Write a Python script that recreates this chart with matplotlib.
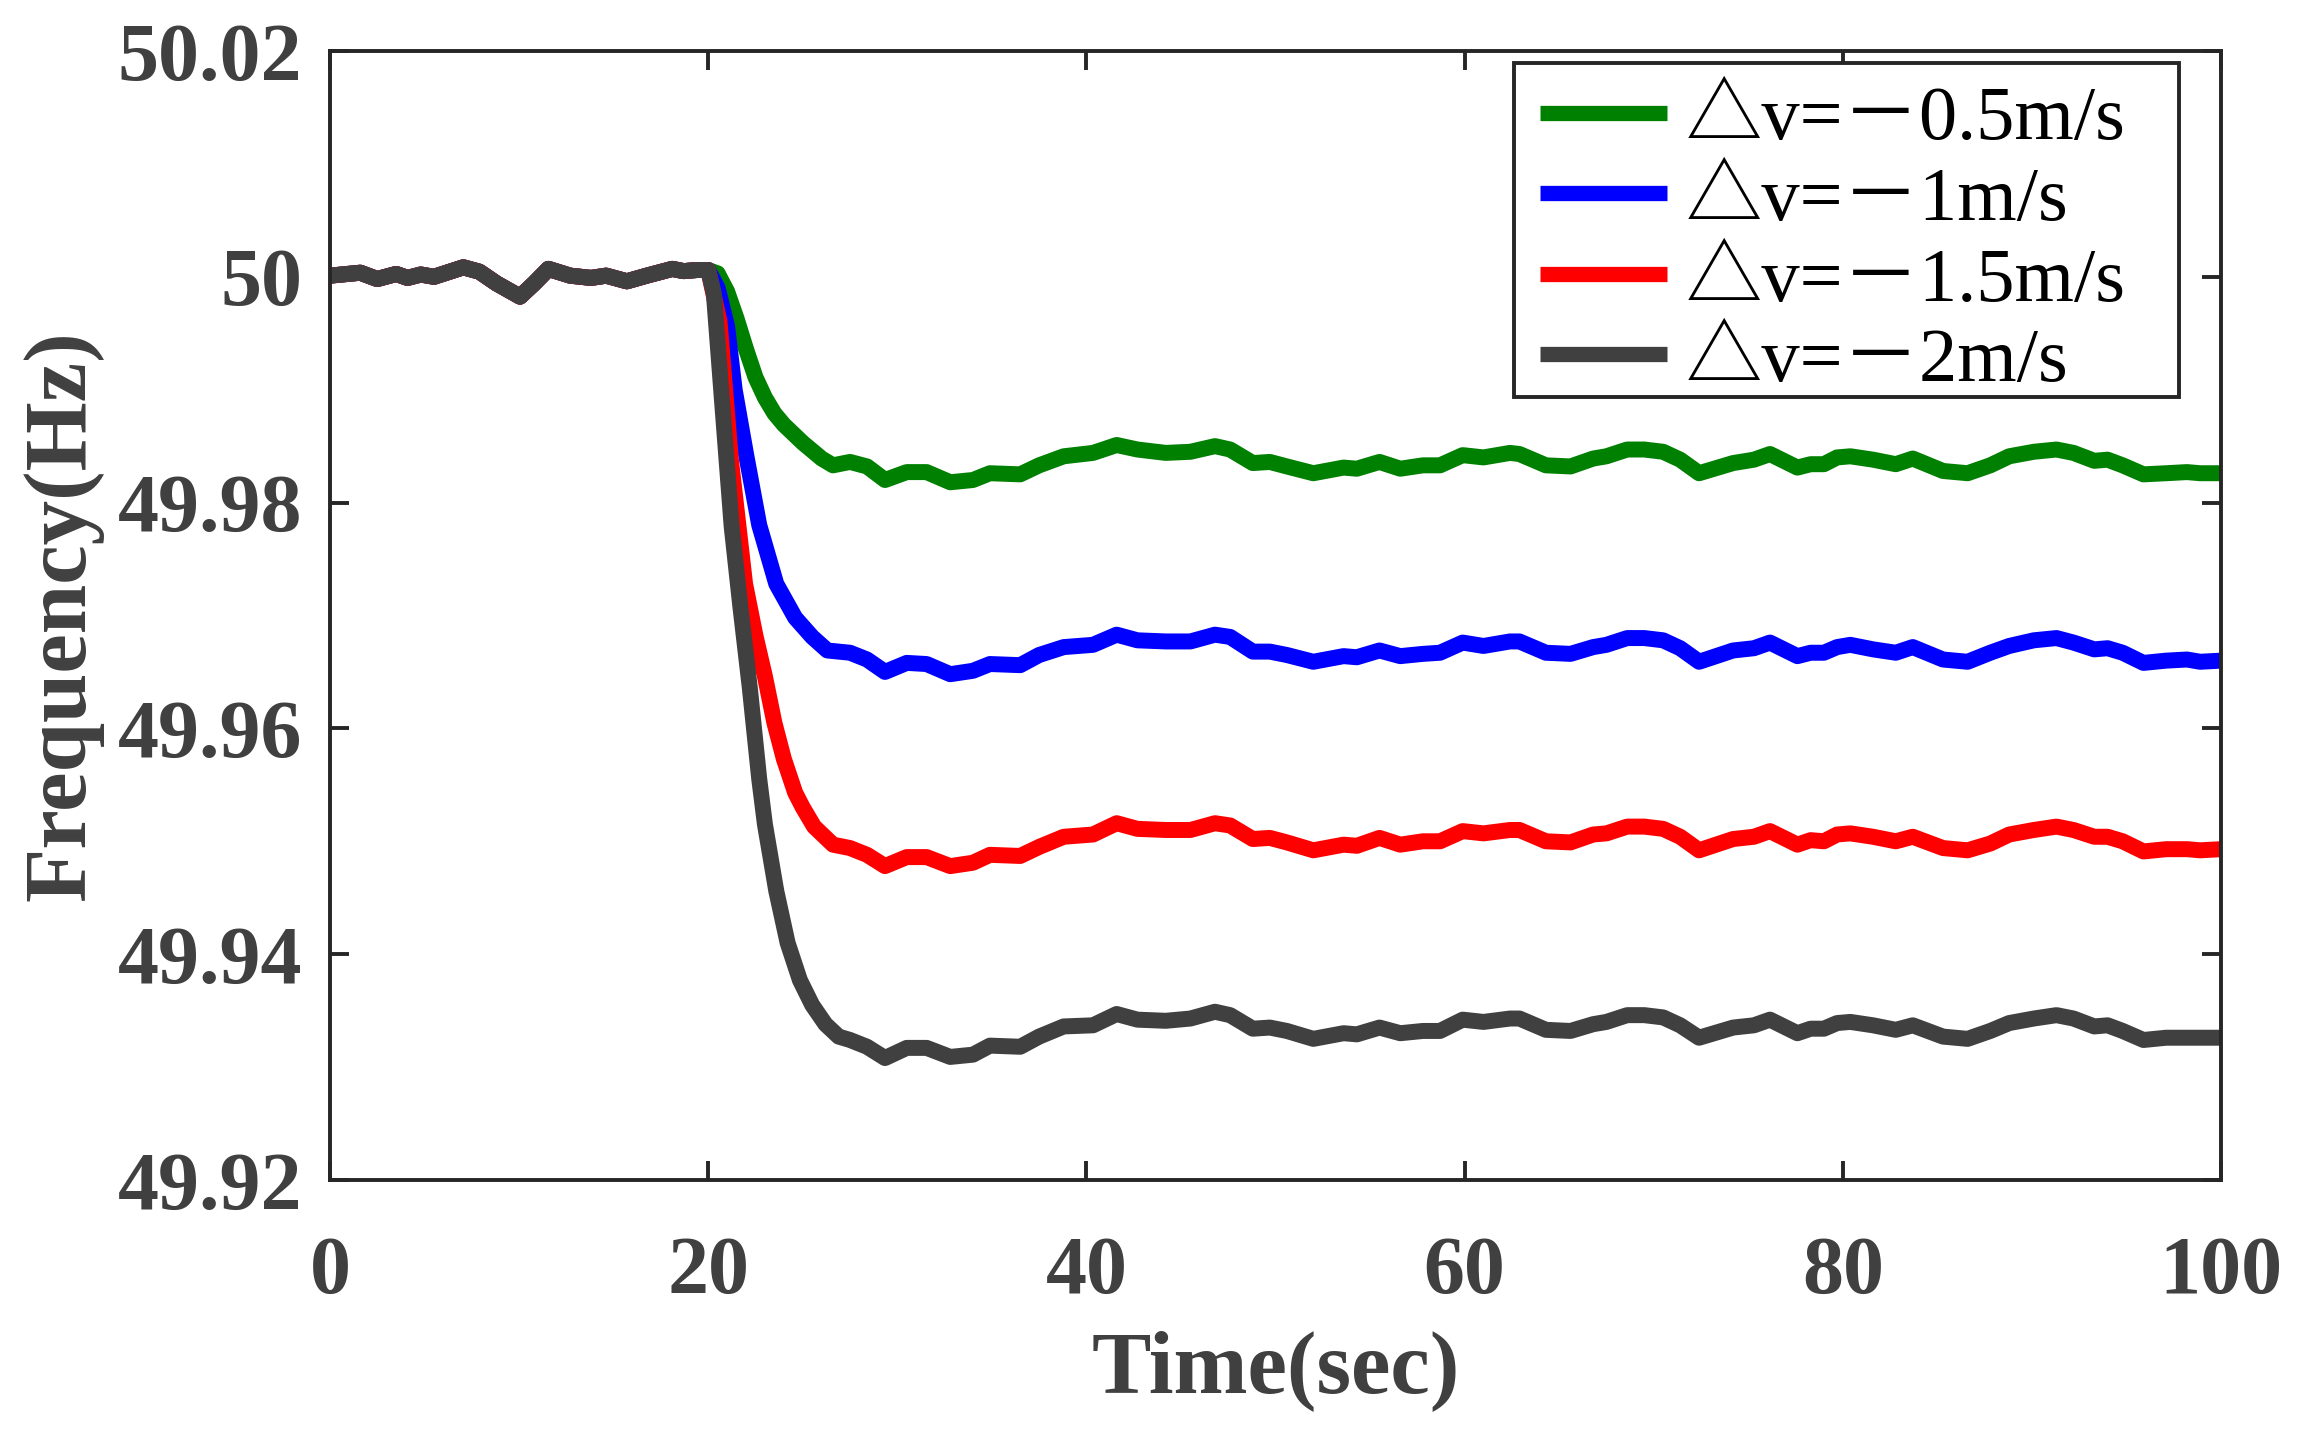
import matplotlib
matplotlib.use('Agg')
import matplotlib.pyplot as plt
from matplotlib.patches import Rectangle

# ---------------- data ----------------
# common pre-disturbance trace (all four runs coincide before t = 20 s)
time_pre = [0.0, 1.6, 2.5, 3.5, 4.1, 4.8, 5.5, 7.05, 7.9, 8.8, 10.05, 10.8,
            11.55, 12.7, 13.8, 14.6, 15.7, 16.75, 18.1, 18.7, 19.4]
freq_pre = [50.0001, 50.00036, 49.9998, 50.00025, 49.9999, 50.0002, 50.0000,
            50.00084, 50.00045, 49.99942, 49.99824, 49.99942, 50.0007, 50.0001,
            49.9999, 50.0001, 49.9996, 50.0001, 50.0007, 50.0005, 50.0006]

# transient part, per series
time_tr_green = [20.0, 20.5, 21.0, 21.5, 22.0, 22.5, 23.0, 23.5, 24.0, 24.5, 25.0, 25.5, 26.0, 26.6]
freq_tr_green = [50.0006, 50.0003, 49.9987, 49.9963, 49.9936, 49.9911, 49.9893, 49.9879,
                 49.9869, 49.9861, 49.9853, 49.9846, 49.9839, 49.9833]

time_tr_blue = [20.0, 20.5, 21.0, 21.4, 22.0, 22.7, 23.6, 24.6, 25.5, 26.3]
freq_tr_blue = [50.0006, 49.9990, 49.9956, 49.9900, 49.9843, 49.9780, 49.9728, 49.9698,
                49.9681, 49.9669]

time_tr_red = [20.0, 20.6, 21.2, 21.95, 22.5, 23.0, 23.5, 24.0, 24.6, 25.0, 25.6, 26.6]
freq_tr_red = [50.0006, 49.9960, 49.9838, 49.9728, 49.9682, 49.9646, 49.9605, 49.9573,
               49.9543, 49.9530, 49.9513, 49.9497]

time_tr_black = [20.0, 20.3, 20.7, 21.24, 21.7, 22.2, 22.7, 23.0, 23.6, 24.2, 24.85, 25.5, 26.2, 26.9]
freq_tr_black = [50.0006, 49.9985, 49.9897, 49.9779, 49.9708, 49.9636, 49.9555, 49.9515,
                 49.9456, 49.9410, 49.9377, 49.9355, 49.9338, 49.9327]

# plateau part (common time samples)
time_pl = [27.5, 28.4, 29.35, 30.5, 31.55, 32.8, 34.0, 34.9, 36.5, 37.5, 38.8, 40.35,
           41.6, 42.7, 44.2, 45.5, 46.8, 47.6, 48.8, 49.7, 50.6, 52.0, 53.6, 54.3,
           55.5, 56.6, 57.8, 58.7, 59.9, 61.0, 62.4, 62.9, 64.3, 65.6, 66.8, 67.5,
           68.6, 69.5, 70.5, 71.4, 72.4, 74.2, 75.3, 76.15, 77.6, 78.3, 79.0, 79.7,
           80.4, 81.6, 82.8, 83.7, 85.3, 86.6, 87.8, 88.8, 90.1, 91.3, 92.2, 93.3,
           94.0, 94.8, 95.9, 97.1, 98.2, 98.9, 100.0]

freq_pl_green = [49.9836, 49.9832, 49.9820, 49.9827, 49.9827, 49.9818, 49.9820, 49.9826,
                 49.9825, 49.9833, 49.9841, 49.9844, 49.9851, 49.9847, 49.9844, 49.9845,
                 49.9850, 49.9847, 49.9835, 49.9836, 49.9832, 49.9826, 49.9831, 49.9830,
                 49.9836, 49.9830, 49.9833, 49.9833, 49.9842, 49.9840, 49.9844, 49.9843,
                 49.9833, 49.9832, 49.9839, 49.9841, 49.9847, 49.9847, 49.9845, 49.9838,
                 49.9826, 49.9835, 49.9838, 49.9843, 49.9831, 49.9834, 49.9834, 49.9840,
                 49.9841, 49.9838, 49.9834, 49.9839, 49.9828, 49.9826, 49.9833, 49.9841,
                 49.9845, 49.9847, 49.9844, 49.9837, 49.9838, 49.9833, 49.9825, 49.9826,
                 49.9827, 49.9826, 49.9826]

freq_pl_blue = [49.9667, 49.9661, 49.9650, 49.9658, 49.9657, 49.9648, 49.9651, 49.9657,
                49.9656, 49.9665, 49.9672, 49.9674, 49.9683, 49.9678, 49.9677, 49.9677,
                49.9683, 49.9681, 49.9668, 49.9668, 49.9665, 49.9659, 49.9664, 49.9663,
                49.9669, 49.9664, 49.9666, 49.9667, 49.9676, 49.9673, 49.9677, 49.9677,
                49.9667, 49.9666, 49.9672, 49.9674, 49.9680, 49.9680, 49.9678, 49.9671,
                49.9659, 49.9669, 49.9671, 49.9676, 49.9664, 49.9667, 49.9667, 49.9672,
                49.9674, 49.9670, 49.9667, 49.9672, 49.9661, 49.9659, 49.9667, 49.9673,
                49.9678, 49.9680, 49.9676, 49.9670, 49.9671, 49.9667, 49.9658, 49.9660,
                49.9661, 49.9659, 49.9660]

freq_pl_red = [49.9494, 49.9488, 49.9478, 49.9486, 49.9486, 49.9478, 49.9481, 49.9488,
               49.9487, 49.9495, 49.9504, 49.9506, 49.9516, 49.9511, 49.9510, 49.9510,
               49.9516, 49.9514, 49.9502, 49.9503, 49.9499, 49.9492, 49.9497, 49.9496,
               49.9503, 49.9497, 49.9500, 49.9500, 49.9509, 49.9507, 49.9510, 49.9510,
               49.9500, 49.9499, 49.9506, 49.9507, 49.9513, 49.9513, 49.9511, 49.9504,
               49.9492, 49.9502, 49.9504, 49.9509, 49.9497, 49.9501, 49.9500, 49.9506,
               49.9507, 49.9504, 49.9500, 49.9504, 49.9494, 49.9492, 49.9498, 49.9506,
               49.9510, 49.9513, 49.9510, 49.9504, 49.9504, 49.9500, 49.9491, 49.9493,
               49.9493, 49.9492, 49.9493]

freq_pl_black = [49.9324, 49.9318, 49.9308, 49.9317, 49.9317, 49.9309, 49.9311, 49.9319,
                 49.9318, 49.9327, 49.9336, 49.9337, 49.9347, 49.9342, 49.9341, 49.9343,
                 49.9349, 49.9346, 49.9334, 49.9335, 49.9332, 49.9325, 49.9330, 49.9329,
                 49.9335, 49.9330, 49.9332, 49.9332, 49.9342, 49.9340, 49.9343, 49.9343,
                 49.9333, 49.9332, 49.9338, 49.9340, 49.9346, 49.9346, 49.9344, 49.9337,
                 49.9326, 49.9335, 49.9337, 49.9342, 49.9330, 49.9334, 49.9334, 49.9339,
                 49.9340, 49.9337, 49.9333, 49.9337, 49.9327, 49.9325, 49.9332, 49.9339,
                 49.9343, 49.9346, 49.9343, 49.9336, 49.9337, 49.9332, 49.9324, 49.9326,
                 49.9326, 49.9326, 49.9326]

series_labels = ['△v=－0.5m/s', '△v=－1m/s', '△v=－1.5m/s', '△v=－2m/s']
series_colors = ['#008000', '#0000ff', '#ff0000', '#404040']

xticks = [0, 20, 40, 60, 80, 100]
xtick_labels = ['0', '20', '40', '60', '80', '100']
yticks = [49.92, 49.94, 49.96, 49.98, 50.00, 50.02]
ytick_labels = ['49.92', '49.94', '49.96', '49.98', '50', '50.02']

# ---------------- figure ----------------
plt.rcParams['font.family'] = ['Liberation Serif', 'DejaVu Serif']

fig = plt.figure(figsize=(22.99, 14.39), dpi=100)
ax = fig.add_axes([0.14354, 0.18, 0.82253, 0.78457])

tr_times = [time_tr_green, time_tr_blue, time_tr_red, time_tr_black]
tr_freqs = [freq_tr_green, freq_tr_blue, freq_tr_red, freq_tr_black]
pl_freqs = [freq_pl_green, freq_pl_blue, freq_pl_red, freq_pl_black]

for tt, ff, pf, lab, col in zip(tr_times, tr_freqs, pl_freqs, series_labels, series_colors):
    t = time_pre + tt + time_pl
    f = freq_pre + ff + pf
    ax.plot(t, f, color=col, lw=11.5, label=lab, solid_joinstyle='round',
            solid_capstyle='butt')

ax.set_xlim(0, 100)
ax.set_ylim(49.92, 50.02)
ax.set_xticks(xticks)
ax.set_xticklabels(xtick_labels)
ax.set_yticks(yticks)
ax.set_yticklabels(ytick_labels)

spine_col = '#262626'
for s in ax.spines.values():
    s.set_linewidth(2.8)
    s.set_color(spine_col)

ax.tick_params(axis='both', which='major', direction='in', length=14, width=2.8,
               color=spine_col, top=True, right=True, labelcolor='#404040')
ax.tick_params(axis='x', pad=40)
ax.tick_params(axis='y', pad=20)
for lbl in ax.get_xticklabels() + ax.get_yticklabels():
    lbl.set_fontsize(59)
    lbl.set_fontweight('bold')
    lbl.set_family('Liberation Serif')

ax.set_xlabel('Time(sec)', fontsize=64, fontweight='bold', color='#404040',
              family='Liberation Serif')
ax.set_ylabel('Frequency(Hz)', fontsize=64, fontweight='bold', color='#404040',
              family='Liberation Serif')
ax.xaxis.set_label_coords(0.5, -0.133)
ax.yaxis.set_label_coords(-0.12, 0.5)

# legend frame (exact box) + frameless legend content
frame = Rectangle((0.626, 0.6935), 0.352, 0.2958, transform=ax.transAxes,
                  facecolor='white', edgecolor=spine_col, lw=2.8, zorder=4,
                  clip_on=False)
ax.add_patch(frame)

leg = ax.legend(loc='upper left', bbox_to_anchor=(0.6398, 0.9690),
                borderaxespad=0, frameon=False, handlelength=1.66,
                handletextpad=0.25, labelspacing=0.145, borderpad=0,
                prop={'family': ['Liberation Serif', 'Noto Sans CJK SC'], 'size': 55})
leg.set_zorder(5)
for ln in leg.get_lines():
    ln.set_linewidth(11)

fig.savefig('out.png', dpi=100, facecolor='white')
